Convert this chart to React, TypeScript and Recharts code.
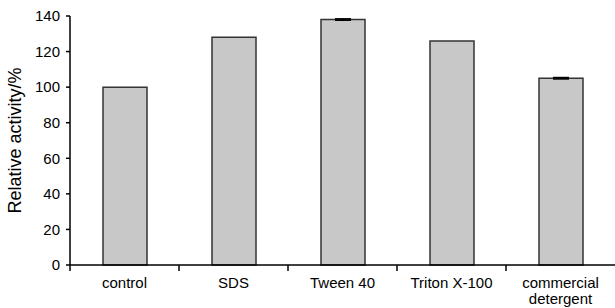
import { BarChart, Bar, XAxis, YAxis, ErrorBar } from "recharts";

const categories = ["control", "SDS", "Tween 40", "Triton X-100", "commercial detergent"];
const activity = [100, 128, 138, 126, 105];
const errors = [0, 0, 0.4, 0, 0.4];
const yTicks = [0, 20, 40, 60, 80, 100, 120, 140];

const data = categories.map((name, i) => ({ name, activity: activity[i], err: errors[i] }));

const font = '"Liberation Sans", Arial, sans-serif';

function CategoryTick(props: any) {
  const { x, y, payload } = props;
  const label: string = payload.value;
  const lines = label.length > 14 ? label.split(" ") : [label];
  const left = x - (payload.offset ?? 0);
  return (
    <g>
      <line x1={left} y1={y - 6} x2={left} y2={y} stroke="#000" strokeWidth={1.5} />
      <text x={x} y={y + 17} textAnchor="middle" fontSize={15} fill="#000" fontFamily={font}>
        {lines.map((l, i) => (
          <tspan key={i} x={x} dy={i === 0 ? 0 : 16}>
            {l}
          </tspan>
        ))}
      </text>
    </g>
  );
}

export default function App() {
  return (
    <div style={{ position: "absolute", left: 0, top: 0, width: 615, height: 308, background: "#fff" }}>
      <BarChart
        width={615}
        height={308}
        data={data}
        margin={{ top: 16, right: 0, left: 0, bottom: 0 }}
        barCategoryGap={0}
      >
        <XAxis
          dataKey="name"
          height={43}
          interval={0}
          tickLine={false}
          tickSize={6}
          tickMargin={0}
          axisLine={{ stroke: "#000", strokeWidth: 1.5 }}
          tick={<CategoryTick />}
        />
        <YAxis
          width={70}
          domain={[0, 140]}
          ticks={yTicks}
          interval={0}
          tickSize={4}
          tickMargin={6}
          axisLine={{ stroke: "#000", strokeWidth: 1.5 }}
          tickLine={{ stroke: "#000", strokeWidth: 1.5 }}
          tick={{ fill: "#000", fontSize: 15, fontFamily: font }}
          label={{
            value: "Relative activity/%",
            angle: -90,
            position: "insideLeft",
            offset: 15,
            style: { textAnchor: "middle", fontSize: 18, fontFamily: font, fill: "#000" },
          }}
        />
        <Bar
          dataKey="activity"
          barSize={44}
          fill="#c8c8c8"
          stroke="#333"
          strokeWidth={1.5}
          isAnimationActive={false}
        >
          <ErrorBar dataKey="err" width={8} stroke="#000" strokeWidth={1.5} isAnimationActive={false} />
        </Bar>
      </BarChart>
    </div>
  );
}
